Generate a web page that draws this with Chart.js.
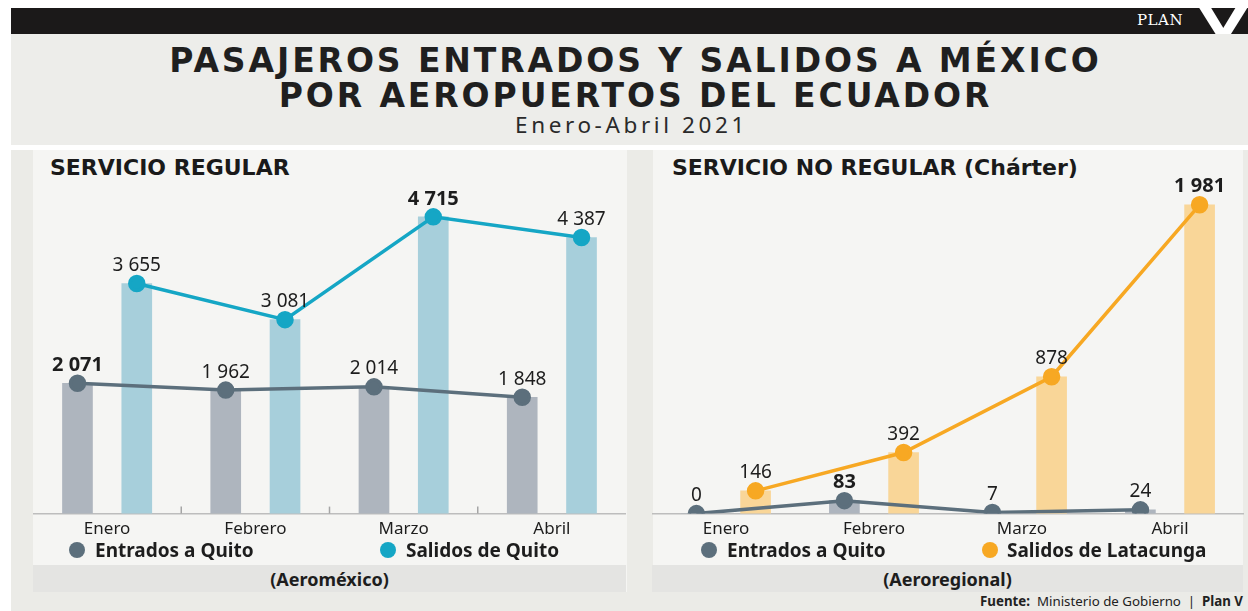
<!DOCTYPE html>
<html lang="es">
<head>
<meta charset="utf-8">
<title>Pasajeros entrados y salidos a México</title>
<script src="https://cdn.jsdelivr.net/npm/chart.js@4.4.1/dist/chart.umd.min.js"></script>
<style>
  body { margin: 0; width: 1248px; height: 611px; position: relative; overflow: hidden; background: #fff; font-family: "Noto Sans", sans-serif; color: #1d1d1d; }
  .abs { position: absolute; }
  #topbar { left: 11px; top: 8px; width: 1237px; height: 26px; background: #1b1919; }
  #plan { left: 1137px; top: 11px; font-family: "DejaVu Serif", serif; font-size: 15px; line-height: 18px; color: #fff; letter-spacing: 0.5px; }
  #v { left: 1199px; top: 3px; font-family: "DejaVu Sans", sans-serif; font-weight: bold; font-size: 38px; line-height: 38px; color: #fff; transform: scaleX(1.65); transform-origin: left top; }
  #header { left: 11px; top: 34px; width: 1237px; height: 111px; background: #ededea; }
  #title { left: 17px; top: 43px; width: 1237px; text-align: center; font-family: "DejaVu Sans", sans-serif; font-weight: bold; font-size: 33px; line-height: 35px; letter-spacing: 2.9px; color: #1f1f1f; }
  #subtitle { left: 13px; top: 111px; width: 1237px; text-align: center; font-size: 22.5px; line-height: 28px; letter-spacing: 3.6px; color: #2a2a2a; }
  #panels { left: 11px; top: 150px; width: 1237px; height: 461px; background: #ebebe7; }
  .plate { top: 150px; height: 442px; background: #f5f5f3; }
  .band { top: 565px; height: 27px; background: #e4e4e2; text-align: center; font-weight: bold; font-size: 18px; line-height: 28px; color: #1d1d1d; }
  .ptitle { top: 155px; font-family: "DejaVu Sans", sans-serif; font-weight: bold; font-size: 22px; line-height: 26px; color: #1a1a1a; }
  .leg { top: 539px; font-weight: bold; font-size: 19px; line-height: 22px; white-space: nowrap; color: #1d1d1d; }
  .dot { top: 542px; width: 16px; height: 16px; border-radius: 50%; }
  #fuente { right: 5px; top: 592px; font-size: 13.3px; line-height: 18px; color: #222; white-space: nowrap; }
  canvas { position: absolute; }
</style>
</head>
<body>
<div id="topbar" class="abs"></div>
<div id="plan" class="abs">PLAN</div>
<div id="v" class="abs">V</div>
<div id="header" class="abs"></div>
<div id="title" class="abs">PASAJEROS ENTRADOS Y SALIDOS A MÉXICO<br>POR AEROPUERTOS DEL ECUADOR</div>
<div id="subtitle" class="abs">Enero-Abril 2021</div>

<div id="panels" class="abs"></div>
<div class="abs plate" style="left:33px;width:594px"></div>
<div class="abs plate" style="left:653px;width:590px"></div>

<div class="abs ptitle" style="left:50px">SERVICIO REGULAR</div>
<div class="abs ptitle" style="left:672px">SERVICIO NO REGULAR (Chárter)</div>

<canvas id="regular" width="593" height="382" style="left:33px;top:165px"></canvas>
<canvas id="charter" width="592" height="382" style="left:652px;top:165px"></canvas>

<div class="abs dot" style="left:69px;background:#5c6f7c"></div>
<div class="abs leg" style="left:95px">Entrados a Quito</div>
<div class="abs dot" style="left:380px;background:#15a6c5"></div>
<div class="abs leg" style="left:406px">Salidos de Quito</div>

<div class="abs dot" style="left:701px;background:#5c6f7c"></div>
<div class="abs leg" style="left:727px">Entrados a Quito</div>
<div class="abs dot" style="left:982px;background:#f7a823"></div>
<div class="abs leg" style="left:1007px">Salidos de Latacunga</div>

<div class="abs band" style="left:33px;width:593px">(Aeroméxico)</div>
<div class="abs band" style="left:652px;width:591px">(Aeroregional)</div>

<div id="fuente" class="abs"><b>Fuente:</b>&nbsp; Ministerio de Gobierno &nbsp;|&nbsp; <b>Plan V</b></div>

<script>
const meses = ["Enero", "Febrero", "Marzo", "Abril"];

// servicio regular (Aeroméxico)
const regularEntrados = [2071, 1962, 2014, 1848];
const regularSalidos = [3655, 3081, 4715, 4387];

// servicio no regular (Aeroregional)
const charterEntrados = [0, 83, 7, 24];
const charterSalidos = [146, 392, 878, 1981];

const SHIFT = 0.2; // each series sits this far (in months) off the month centre

function fmt(v) {
  return String(v).replace(/\B(?=(\d{3})+(?!\d))/g, " ");
}

function points(values, side) {
  return values.map((v, i) => ({ x: i + side * SHIFT, y: v }));
}

// numbers over the line points, the biggest one of each line in bold
const valueLabels = {
  id: "valueLabels",
  afterDatasetsDraw(chart) {
    const ctx = chart.ctx;
    chart.data.datasets.forEach((ds, i) => {
      if (ds.type !== "line") return;
      const meta = chart.getDatasetMeta(i);
      const values = ds.data.map((p) => p.y);
      const max = Math.max(...values);
      meta.data.forEach((pt, j) => {
        const big = values[j] === max;
        ctx.save();
        ctx.font = (big ? "bold 20px" : "19px") + ' "Noto Sans"';
        ctx.fillStyle = "#1d1d1d";
        ctx.textAlign = "center";
        ctx.textBaseline = "middle";
        ctx.fillText(fmt(values[j]), pt.x, pt.y - 18);
        ctx.restore();
      });
    });
  },
};

// small marks between months, standing on the axis
const monthMarks = {
  id: "monthMarks",
  afterDraw(chart, args, opts) {
    if (!opts.show) return;
    const x = chart.scales.x;
    const y = chart.chartArea.bottom;
    const ctx = chart.ctx;
    ctx.save();
    ctx.strokeStyle = "#a5a5a5";
    ctx.lineWidth = 1.5;
    for (let i = 1; i < meses.length; i++) {
      const px = (x.getPixelForValue(i - 1) + x.getPixelForValue(i)) / 2;
      ctx.beginPath();
      ctx.moveTo(px, y);
      ctx.lineTo(px, y - 7);
      ctx.stroke();
    }
    ctx.restore();
  },
};

function makeChart(id, entrados, salidos, salColor, salBar, yMax, marks) {
  const ctx = document.getElementById(id).getContext("2d");
  return new Chart(ctx, {
    data: {
      labels: meses,
      datasets: [
        {
          type: "line",
          label: "Entrados a Quito",
          data: points(entrados, -1),
          xAxisID: "xl",
          borderColor: "#5c6f7c",
          backgroundColor: "#5c6f7c",
          borderWidth: 3.5,
          pointRadius: 7,
          tension: 0,
          order: 0,
        },
        {
          type: "line",
          label: "Salidos",
          data: points(salidos, 1),
          xAxisID: "xl",
          borderColor: salColor,
          backgroundColor: salColor,
          borderWidth: 3.5,
          pointRadius: 7,
          tension: 0,
          order: 0,
        },
        {
          type: "bar",
          label: "Entrados a Quito",
          data: points(entrados, -1),
          xAxisID: "xl",
          backgroundColor: "#aeb5be",
          grouped: false,
          barThickness: 30,
          order: 1,
        },
        {
          type: "bar",
          label: "Salidos",
          data: points(salidos, 1),
          xAxisID: "xl",
          backgroundColor: salBar,
          grouped: false,
          barThickness: 30,
          order: 1,
        },
      ],
    },
    options: {
      responsive: false,
      animation: false,
      layout: { autoPadding: false, padding: { top: 15, bottom: 3, left: 0, right: 0 } },
      plugins: {
        legend: { display: false },
        tooltip: { enabled: false },
        monthMarks: { show: marks },
      },
      scales: {
        x: {
          type: "category",
          offset: true,
          grid: { display: false, drawTicks: false },
          border: { display: true, color: "#bdbdbd", width: 1.5 },
          ticks: {
            padding: 5,
            color: "#1d1d1d",
            font: { family: "Noto Sans", size: 17 },
          },
        },
        xl: {
          type: "linear",
          display: false,
          offset: false,
          min: -0.5,
          max: meses.length - 0.5,
        },
        y: {
          display: false,
          min: 0,
          max: yMax,
        },
      },
    },
    plugins: [valueLabels, monthMarks],
  });
}

makeChart("regular", regularEntrados, regularSalidos, "#15a6c5", "#a7cfdb", 5300, true);
makeChart("charter", charterEntrados, charterSalidos, "#f7a823", "#f9d698", 2140, false);
</script>
</body>
</html>
